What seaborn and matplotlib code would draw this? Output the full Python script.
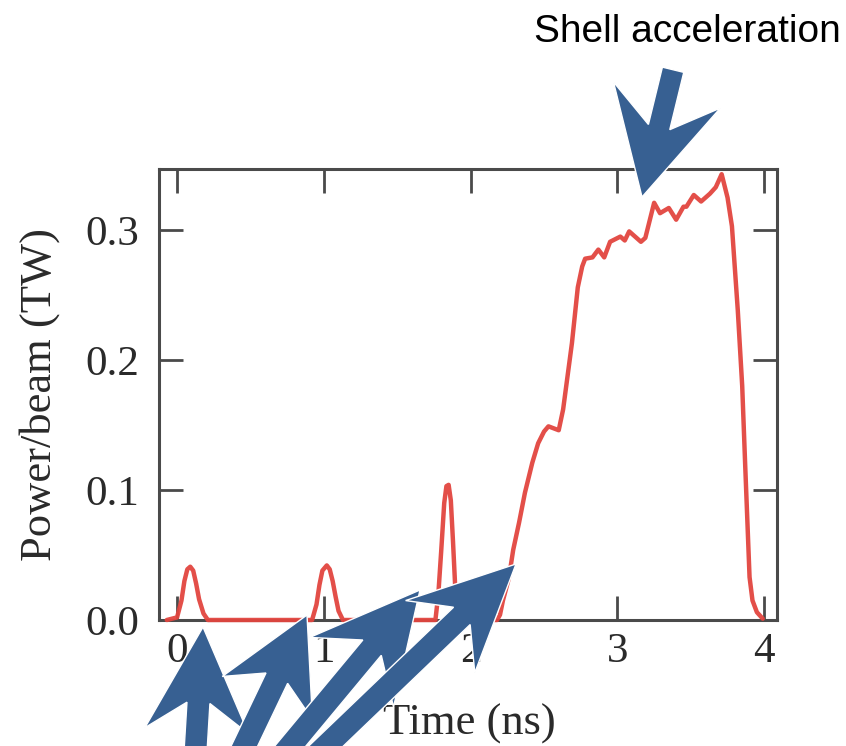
import numpy as np
import pandas as pd
import matplotlib
matplotlib.use("Agg")
import matplotlib.pyplot as plt
import seaborn as sns
from matplotlib.patches import Polygon

# ---- data ----
time_ns = [-0.07, 0.00, 0.03, 0.05, 0.07, 0.09, 0.11, 0.13, 0.15, 0.18, 0.21,
           0.92, 0.95, 0.97, 0.99, 1.02, 1.04, 1.06, 1.08, 1.10, 1.13,
           1.76, 1.78, 1.80, 1.82, 1.835, 1.85, 1.865, 1.88, 1.895, 1.91, 1.93,
           2.18, 2.20, 2.22, 2.26, 2.29, 2.33, 2.37, 2.42, 2.46, 2.50, 2.53, 2.60, 2.63,
           2.69, 2.73, 2.76, 2.78, 2.83, 2.87, 2.91, 2.95, 3.02, 3.05, 3.08, 3.16,
           3.19, 3.25, 3.29, 3.35, 3.40, 3.45, 3.47, 3.52, 3.57, 3.63, 3.67,
           3.71, 3.75, 3.78, 3.82, 3.85, 3.87, 3.90, 3.92, 3.95, 3.99]
power_tw = [0.0, 0.002, 0.015, 0.030, 0.039, 0.041, 0.038, 0.028, 0.016, 0.005, 0.0,
            0.0, 0.012, 0.027, 0.038, 0.042, 0.039, 0.030, 0.018, 0.007, 0.0,
            0.0, 0.020, 0.054, 0.090, 0.103, 0.104, 0.092, 0.060, 0.025, 0.005, 0.0,
            0.0, 0.004, 0.015, 0.032, 0.054, 0.075, 0.098, 0.121, 0.136, 0.145, 0.149, 0.146, 0.162,
            0.213, 0.256, 0.272, 0.278, 0.279, 0.285, 0.279, 0.291, 0.295, 0.292, 0.299, 0.291,
            0.294, 0.321, 0.313, 0.317, 0.308, 0.318, 0.318, 0.327, 0.322, 0.328, 0.333,
            0.343, 0.325, 0.303, 0.238, 0.180, 0.120, 0.033, 0.015, 0.006, 0.001]
x_ticks = [0, 1, 2, 3, 4]
x_tick_labels = ["0", "1", "2", "3", "4"]
y_ticks = [0.0, 0.1, 0.2, 0.3]
y_tick_labels = ["0.0", "0.1", "0.2", "0.3"]
x_label = "Time (ns)"
y_label = "Power/beam (TW)"
annotation_text = "Shell acceleration"

# ---- style ----
sns.set_theme(style="white")
plt.rcParams['font.family'] = ['Liberation Serif', 'DejaVu Serif']

W, H = 846, 746
fig = plt.figure(figsize=(W / 100, H / 100), dpi=100)
ax = fig.add_axes([159 / W, 1 - 620 / H, (777 - 159) / W, (620 - 169) / H])

df = pd.DataFrame({"t": time_ns, "p": power_tw})
sns.lineplot(data=df, x="t", y="p", ax=ax, color="#e2453f", linewidth=3.2,
             estimator=None, sort=False)
for ln in ax.lines:
    ln.set_clip_on(False)
    ln.set_zorder(4)
    ln.set_solid_joinstyle("round")
    ln.set_alpha(0.95)

ax.set_xlim(-0.123, 4.087)
ax.set_ylim(0, 0.347)
ax.set_xticks(x_ticks)
ax.set_xticklabels(x_tick_labels)
ax.set_yticks(y_ticks)
ax.set_yticklabels(y_tick_labels)

frame_col = "#4a4a4a"
text_col = "#2a2a2a"
for s in ax.spines.values():
    s.set_visible(True)
    s.set_color(frame_col)
    s.set_linewidth(2.2)

ax.tick_params(axis="both", which="major", direction="in", length=17, width=2.0,
               color=frame_col, labelcolor=text_col, labelsize=31,
               top=True, right=True, bottom=True, left=True)
ax.tick_params(axis="x", pad=9)
ax.tick_params(axis="y", pad=14)

ax.set_xlabel(x_label, fontsize=32, color=text_col)
ax.set_ylabel(y_label, fontsize=32, color=text_col)
ax.xaxis.set_label_coords(0.502, -0.186)
ax.yaxis.set_label_coords(-0.16, 0.5)

# ---- annotation text ----
fig.text(687 / W, 1 - 42 / H, annotation_text, fontsize=28, color="black",
         family=["Liberation Sans", "DejaVu Sans"], ha="center", va="baseline")

# ---- block arrows (decoration, in pixel space of the figure) ----
arrow_color = "#376092"


def arrow_polygon(tip, direction, length, shaft_w, head_len, head_w, join_len):
    tip = np.asarray(tip, float)
    u = np.asarray(direction, float)
    u = u / np.linalg.norm(u)
    n = np.array([-u[1], u[0]])
    tail = tip - u * length
    pts = [tail + n * shaft_w / 2,
           tip - u * join_len + n * shaft_w / 2,
           tip - u * head_len + n * head_w / 2,
           tip,
           tip - u * head_len - n * head_w / 2,
           tip - u * join_len - n * shaft_w / 2,
           tail - n * shaft_w / 2]
    return np.array([[p[0] / W, 1 - p[1] / H] for p in pts])


arrow_specs = [
    # tip(px), direction, length, shaft, head_len, head_w, join_len
    ((642, 197), (-0.237, 0.970), 131, 22, 105, 110, 72),
    ((203, 627), (0.06, -1.0), 250, 23, 104, 104, 76),
    ((307, 615), (0.43, -0.90), 250, 24, 92, 100, 70),
    ((420, 590), (0.64, -0.77), 280, 24, 107, 109, 75),
    ((516, 564), (0.72, -0.69), 300, 24, 105, 100, 75),
]
for spec in arrow_specs:
    poly = Polygon(arrow_polygon(*spec), closed=True, transform=fig.transFigure,
                   facecolor=arrow_color, edgecolor="white", linewidth=1.0,
                   zorder=10)
    fig.add_artist(poly)

fig.savefig("out.png", dpi=100)
